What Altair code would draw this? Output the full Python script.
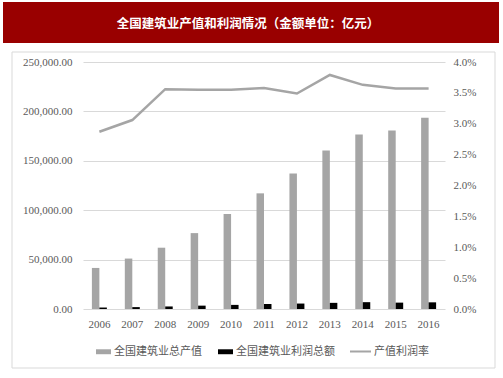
import altair as alt
import pandas as pd

years = ["2006", "2007", "2008", "2009", "2010", "2011", "2012", "2013", "2014", "2015", "2016"]
output_value = [41557, 51044, 62037, 76808, 96031, 117060, 137218, 160366, 176713, 180757, 193567]
profit_total = [1487, 1913, 2574, 3401, 4162, 5047, 5519, 6222, 6913, 6451, 6745]
profit_rate = [0.0287, 0.0306, 0.0356, 0.0355, 0.0355, 0.0358, 0.0349, 0.0379, 0.0363, 0.0357, 0.0357]

series_names = ["全国建筑业总产值", "全国建筑业利润总额"]
rate_name = "产值利润率"
title_text = "全国建筑业产值和利润情况（金额单位：亿元）"

bars_df = pd.DataFrame({
    "year": years * 2,
    "series": [series_names[0]] * len(years) + [series_names[1]] * len(years),
    "value": output_value + profit_total,
})
line_df = pd.DataFrame({"year": years, "rate": profit_rate, "series": [rate_name] * len(years)})
one = pd.DataFrame({"a": [0]})

W, H = 362, 247
PL, PT = 83, 62

label_font = "Liberation Serif"
cjk = "Noto Sans CJK SC"
grey_txt = "#595959"

x_enc = alt.X("year:N", sort=years, title=None,
              scale=alt.Scale(paddingInner=0.545, paddingOuter=0.27),
              axis=alt.Axis(labelFont=label_font, labelFontSize=11, labelColor=grey_txt,
                            ticks=False, domain=False, labelPadding=9, labelAngle=0))

bars = alt.Chart(bars_df).mark_bar().encode(
    x=x_enc,
    xOffset=alt.XOffset("series:N", sort=series_names),
    y=alt.Y("value:Q", title=None,
            scale=alt.Scale(domain=[0, 250000], nice=False),
            axis=alt.Axis(values=[0, 50000, 100000, 150000, 200000, 250000], format=",.2f",
                          labelFont=label_font, labelFontSize=11, labelColor=grey_txt,
                          ticks=False, domain=False, labelPadding=11,
                          grid=True, gridColor="#d9d9d9", gridWidth=1)),
    color=alt.Color("series:N", sort=series_names,
                    scale=alt.Scale(domain=series_names, range=["#a5a5a5", "#000000"]),
                    legend=alt.Legend(orient="none", legendX=13, legendY=282, direction="horizontal",
                                      title=None, symbolType="M-1,-0.33H1V0.33H-1Z", symbolSize=225,
                                      symbolStrokeWidth=0, labelFont=cjk, labelFontSize=11,
                                      labelColor=grey_txt, columnPadding=16, labelOffset=3,
                                      padding=0)),
)

line = alt.Chart(line_df).mark_line(strokeWidth=2.5).encode(
    x=alt.X("year:N", sort=years),
    y=alt.Y("rate:Q", title=None,
            scale=alt.Scale(domain=[0, 0.04], nice=False),
            axis=alt.Axis(orient="right", values=[0, 0.005, 0.01, 0.015, 0.02, 0.025, 0.03, 0.035, 0.04],
                          format=".1%", labelFont=label_font, labelFontSize=11, labelColor=grey_txt,
                          ticks=False, domain=False, labelPadding=8, grid=False)),
    stroke=alt.Stroke("series:N",
                      scale=alt.Scale(domain=[rate_name], range=["#a5a5a5"]),
                      legend=alt.Legend(orient="none", legendX=266, legendY=278, direction="horizontal",
                                        title=None, symbolType="stroke", symbolSize=441,
                                        symbolStrokeWidth=2, labelFont=cjk, labelFontSize=11,
                                        labelColor=grey_txt, labelOffset=2, padding=0)),
)

title_band = alt.Chart(one).mark_rect(color="#990000").encode(
    x=alt.value(3 - PL), x2=alt.value(499 - PL), y=alt.value(2 - PT), y2=alt.value(43 - PT)
)
title_mark = alt.Chart(one).mark_text(font=cjk, fontSize=12.5, fontWeight="bold", color="white",
                                      align="center", baseline="middle").encode(
    x=alt.value(248 - PL), y=alt.value(24 - PT), text=alt.value(title_text)
)
frame = alt.Chart(one).mark_rect(fill=None, stroke="#d9d9d9", strokeWidth=1).encode(
    x=alt.value(12 - PL), x2=alt.value(495 - PL), y=alt.value(52 - PT), y2=alt.value(368 - PT)
)

chart = alt.layer(title_band, title_mark, frame, bars, line).resolve_scale(
    y="independent"
).properties(
    width=W, height=H,
    padding={"left": PL, "top": PT, "right": 503 - PL - W, "bottom": 378 - PT - H},
    autosize=alt.AutoSizeParams(type="none"),
    background="white",
).configure_view(stroke=None)

chart.save("out.html", embed_options={"renderer": "svg", "actions": False})
